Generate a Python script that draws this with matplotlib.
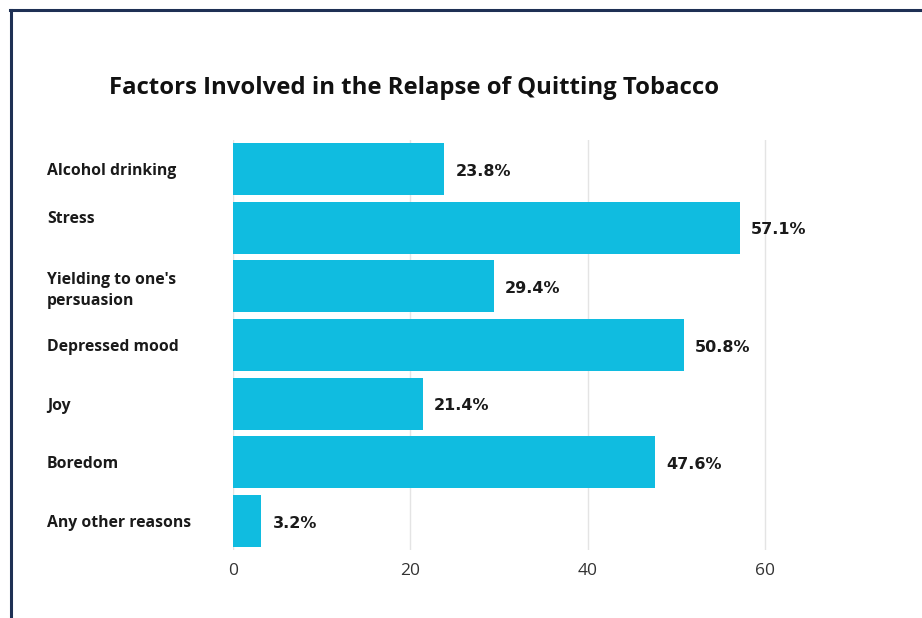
import matplotlib.pyplot as plt
from matplotlib.lines import Line2D
import matplotlib.transforms as mtransforms

# Relapse factors and share of respondents (%)
factors = ["Alcohol drinking", "Stress", "Yielding to one's\npersuasion",
           "Depressed mood", "Joy", "Boredom", "Any other reasons"]
percent = [23.8, 57.1, 29.4, 50.8, 21.4, 47.6, 3.2]
xticks = [0, 20, 40, 60]

bar_color = "#10BCE0"
navy = "#1E3054"

fig = plt.figure(figsize=(9.22, 6.18), dpi=100)
ax = fig.add_axes([233 / 922, 1 - 550.4 / 618, 559 / 922, 410.8 / 618])

ys = list(range(len(factors)))
ax.barh(ys, percent, height=0.89, color=bar_color, zorder=2)

# value labels at the bar ends
for y, v in zip(ys, percent):
    ax.annotate(f"{v}%", xy=(v, y), xytext=(8, -1.5), textcoords="offset points",
                ha="left", va="center", fontsize=11.5, fontweight="bold",
                family="DejaVu Sans", color="#1a1a1a")

ax.set_xlim(0, 63)
ax.set_ylim(len(factors) - 0.5, -0.5)
ax.set_xticks(xticks)
ax.set_xticklabels([str(t) for t in xticks], family="Open Sans", fontsize=12.5,
                   color="#333333")
ax.set_yticks(ys)
ax.set_yticklabels(factors, family="Open Sans", fontsize=11.3,
                   fontweight="bold", color="#1a1a1a", ha="left",
                   linespacing=1.35)
ax.tick_params(axis="y", length=0, pad=134)
ax.tick_params(axis="x", length=0, pad=9)

# the "Stress" label sits a little above its bar's centre
lbl = ax.get_yticklabels()[1]
lbl.set_transform(lbl.get_transform() +
                  mtransforms.ScaledTranslation(0, 11 / 100, fig.dpi_scale_trans))

ax.grid(axis="x", color="#e4e4e4", linewidth=1, zorder=0)
for s in ax.spines.values():
    s.set_visible(False)

fig.text(414 / 922, 1 - 88 / 618, "Factors Involved in the Relapse of Quitting Tobacco",
         ha="center", va="center", fontsize=17.2, fontweight="bold",
         family="Open Sans", color="#111111")

# frame lines on the left and top edges
fig.add_artist(Line2D([11 / 922, 11 / 922], [0, 1 - 10 / 618], color=navy,
                      linewidth=2.2, transform=fig.transFigure))
fig.add_artist(Line2D([10 / 922, 1], [1 - 10 / 618, 1 - 10 / 618], color=navy,
                      linewidth=2.2, transform=fig.transFigure))

fig.savefig("out.png", dpi=100, facecolor="white")
